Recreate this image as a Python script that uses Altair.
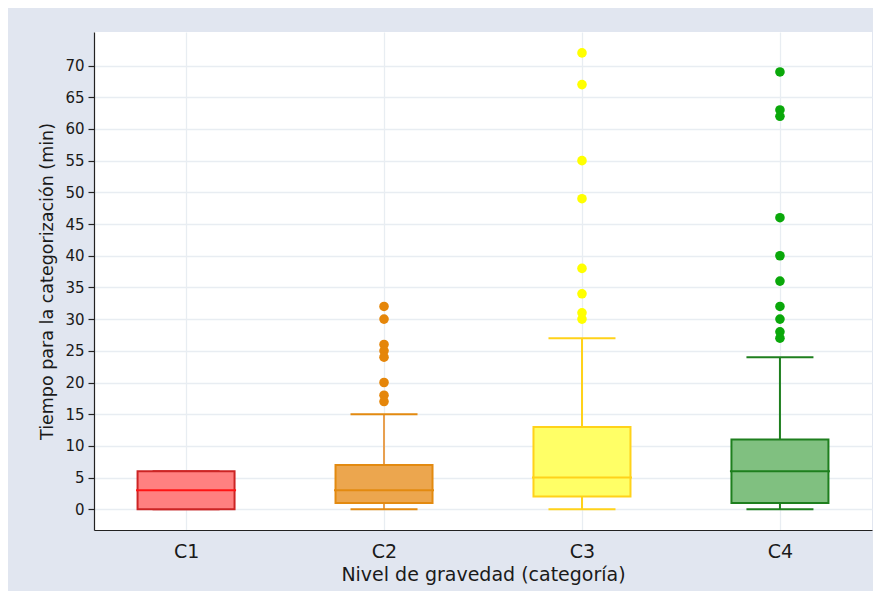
import altair as alt
import pandas as pd

categories = ["C1", "C2", "C3", "C4"]
whisker_low = [0, 0, 0, 0]
q1 = [0, 1, 2, 1]
median = [3, 3, 5, 6]
q3 = [6, 7, 13, 11]
whisker_high = [6, 15, 27, 24]

outliers_c2 = [32, 30, 26, 25, 24, 20, 18, 17]
outliers_c3 = [72, 67, 55, 49, 38, 34, 31, 30]
outliers_c4 = [69, 63, 62, 46, 40, 36, 32, 30, 28, 27]

y_ticks = list(range(0, 75, 5))

fill_colors = ["#ff8080", "#eca64e", "#ffff66", "#80c080"]
line_colors = ["#cc2424", "#e38a10", "#ffd21a", "#1e7f1e"]
median_colors = ["#ff1414", "#e38a10", "#ffd21a", "#1e7f1e"]
whisker_colors = ["#cc2424", "#e8a050", "#ffd21a", "#1e7f1e"]
point_colors = ["#ff1414", "#e5860a", "#ffff00", "#0aa80a"]

FONT = "DejaVu Sans"

stats = pd.DataFrame({
    "cat": categories,
    "low": whisker_low,
    "q1": q1,
    "median": median,
    "q3": q3,
    "high": whisker_high,
})

out_rows = (
    [("C2", v) for v in outliers_c2]
    + [("C3", v) for v in outliers_c3]
    + [("C4", v) for v in outliers_c4]
)
outliers = pd.DataFrame(out_rows, columns=["cat", "value"])

x_enc = alt.X(
    "cat:N",
    scale=alt.Scale(type="point", domain=categories, padding=0.465),
    axis=alt.Axis(
        title="Nivel de gravedad (categoría)",
        labelAngle=0,
        ticks=False,
        tickSize=0,
        grid=True,
        labelFont=FONT,
        labelFontSize=19,
        labelColor="#1a1a1a",
        labelPadding=27,
        labelBaseline="alphabetic",
        titleFont=FONT,
        titleFontSize=19,
        titleFontWeight="normal",
        titleColor="#1a1a1a",
        titleY=50,
        titleBaseline="alphabetic",
    ),
)

y_scale = alt.Scale(domain=[-3.27, 75.3], nice=False, zero=False)
y_axis = alt.Axis(
    title="Tiempo para la categorización (min)",
    values=y_ticks,
    grid=True,
    tickSize=6,
    tickColor="#222222",
    tickWidth=1.2,
    labelPadding=4,
    labelFont=FONT,
    labelFontSize=15,
    labelColor="#1a1a1a",
    titleFont=FONT,
    titleFontSize=17.5,
    titleFontWeight="normal",
    titleColor="#1a1a1a",
    titleX=-42,
    titleBaseline="alphabetic",
    titleAngle=270,
)

def cscale(rng):
    return alt.Scale(domain=categories, range=rng)

base = alt.Chart(stats)

whisk_up = base.mark_rule(strokeWidth=2, opacity=1).encode(
    x=x_enc,
    y=alt.Y("q3:Q", scale=y_scale, axis=y_axis),
    y2="high:Q",
    color=alt.Color("cat:N", scale=cscale(whisker_colors), legend=None),
)
whisk_down = base.mark_rule(strokeWidth=2, opacity=1).encode(
    x=x_enc,
    y=alt.Y("low:Q", scale=y_scale, axis=y_axis),
    y2="q1:Q",
    color=alt.Color("cat:N", scale=cscale(whisker_colors), legend=None),
)
cap_hi = base.mark_tick(size=67, thickness=2, opacity=1).encode(
    x=x_enc,
    y=alt.Y("high:Q", scale=y_scale, axis=y_axis),
    color=alt.Color("cat:N", scale=cscale(line_colors), legend=None),
)
cap_lo = base.mark_tick(size=67, thickness=2, opacity=1).encode(
    x=x_enc,
    y=alt.Y("low:Q", scale=y_scale, axis=y_axis),
    color=alt.Color("cat:N", scale=cscale(line_colors), legend=None),
)
box = base.mark_bar(size=97, strokeWidth=2, opacity=1).encode(
    x=x_enc,
    y=alt.Y("q1:Q", scale=y_scale, axis=y_axis),
    y2="q3:Q",
    fill=alt.Fill("cat:N", scale=cscale(fill_colors), legend=None),
    stroke=alt.Stroke("cat:N", scale=cscale(line_colors), legend=None),
)
med = base.mark_tick(size=100, thickness=2, opacity=1).encode(
    x=x_enc,
    y=alt.Y("median:Q", scale=y_scale, axis=y_axis),
    color=alt.Color("cat:N", scale=cscale(median_colors), legend=None),
)
pts = alt.Chart(outliers).mark_circle(size=92, opacity=1).encode(
    x=x_enc,
    y=alt.Y("value:Q", scale=y_scale, axis=y_axis),
    color=alt.Color("cat:N", scale=cscale(point_colors), legend=None),
)

chart = (
    alt.layer(whisk_up, whisk_down, cap_hi, cap_lo, box, med, pts)
    .resolve_scale(color="independent", fill="independent", stroke="independent")
    .properties(
        width=778,
        height=498,
        autosize=alt.AutoSizeParams(type="none"),
        padding={"left": 86, "top": 24, "right": 1, "bottom": 61},
        background="#e1e6f0",
    )
    .configure_view(fill="white", strokeWidth=0)
    .configure_axis(
        gridColor="#e8edf2",
        gridWidth=1.3,
        domainColor="#222222",
        domainWidth=1.2,
    )
)

chart.save("out.html", embed_options={"renderer": "svg", "actions": False})
